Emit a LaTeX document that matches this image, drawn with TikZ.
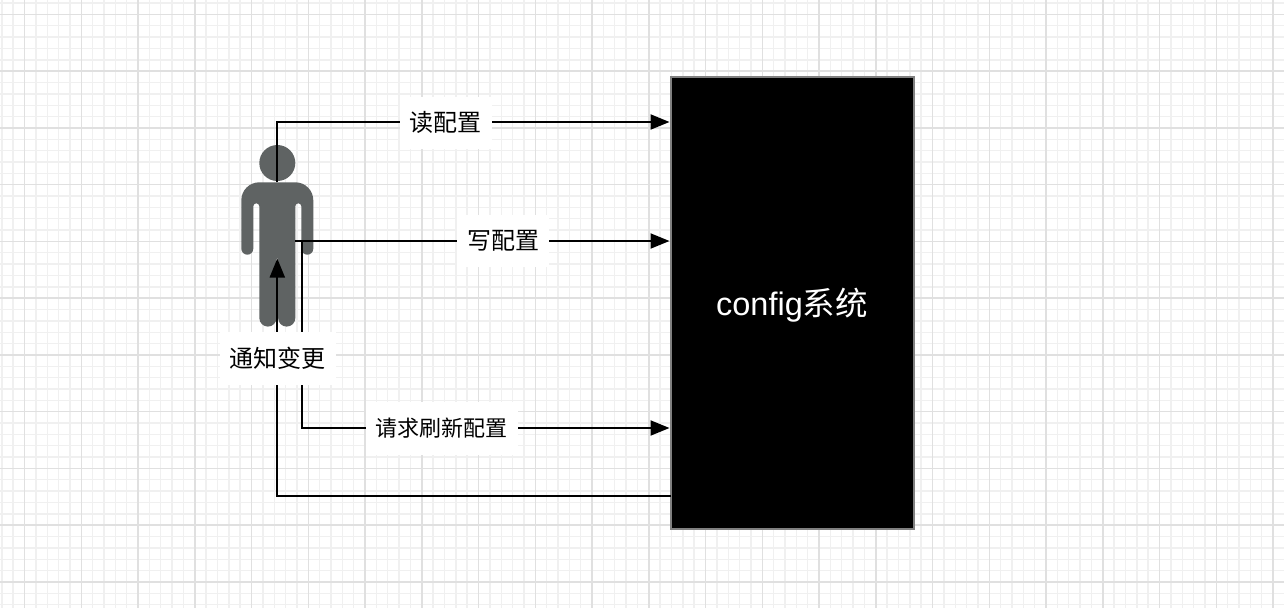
\documentclass[tikz,border=0pt]{standalone}
\usepackage{fontspec}
\setmainfont{Liberation Sans}
\newfontfamily\cjk{Noto Sans CJK SC}
\usetikzlibrary{arrows.meta}
\definecolor{gridminor}{HTML}{F0F0F0}
\definecolor{gridmajor}{HTML}{E0E0E0}
\definecolor{personc}{HTML}{5F6363}
\tikzset{
  conn/.style={draw=black,line width=2pt},
  arrowed/.style={conn,-{Triangle[length=19pt,width=15pt]}},
  lbl/.style={fill=white,inner sep=0pt,text=black,font=\fontsize{24}{28}\selectfont\cjk},
  lblsmall/.style={fill=white,inner sep=0pt,text=black,font=\fontsize{22}{26}\selectfont\cjk},
  sysbox/.style={draw=black!50,fill=black,line width=2pt,text=white,inner sep=0pt,
     minimum width=243pt,minimum height=452pt}
}
\begin{document}
\begin{tikzpicture}[x=1pt,y=-1pt]
\useasboundingbox (0,0) rectangle (1284,608);
\fill[white] (0,0) rectangle (1284,608);
% grid
\foreach \i in {-2,...,111} {
  \pgfmathsetmacro\gx{24.5+\i*11.35}
  \draw[gridminor,line width=1.4pt] (\gx,0) -- (\gx,608);
}
\foreach \i in {-1,...,53} {
  \pgfmathsetmacro\gy{14.4+\i*11.35}
  \draw[gridminor,line width=1.4pt] (0,\gy) -- (1284,\gy);
}
\foreach \i in {0,...,22} {
  \pgfmathsetmacro\gx{24.5+\i*56.75}
  \draw[gridmajor,line width=1.5pt] (\gx,0) -- (\gx,608);
}
\foreach \i in {0,...,10} {
  \pgfmathsetmacro\gy{14.4+\i*56.75}
  \draw[gridmajor,line width=1.5pt] (0,\gy) -- (1284,\gy);
}
% person
\fill[personc] (277.3,163) circle[radius=18pt];
\fill[personc] (259.3,182.3) -- (295.3,182.3) arc[start angle=90,end angle=0,radius=18pt]
  -- (313.3,248.7) arc[start angle=0,end angle=-180,radius=6pt]
  -- (301.3,206.3) arc[start angle=0,end angle=180,radius=3pt]
  -- (295.3,318) arc[start angle=0,end angle=-180,radius=8.6pt]
  -- (278.1,259) arc[start angle=0,end angle=180,radius=0.8pt]
  -- (276.5,318) arc[start angle=0,end angle=-180,radius=8.6pt]
  -- (259.3,206.3) arc[start angle=0,end angle=180,radius=3pt]
  -- (253.3,248.7) arc[start angle=0,end angle=-180,radius=6pt]
  -- (241.3,200.3) arc[start angle=180,end angle=90,radius=18pt] -- cycle;
% system
\node[sysbox] (sys) at (792.5,303) {};
\node[text=white,inner sep=0pt,font=\fontsize{32.5}{38}\selectfont] (systext) at (792,305.5) {config{\cjk 系统}};
% anchors
\coordinate (pTop) at (277.3,182.3);
\coordinate (pHand) at (295.3,241);
\coordinate (pHip) at (302.3,241);
\coordinate (pCrotch) at (277.3,258.5);
\coordinate (t1) at (669.5,122);
\coordinate (t2) at (669.5,241);
\coordinate (t3) at (669.5,428);
\coordinate (s4) at (671,496);
% connectors
\draw[arrowed] (pTop) |- (t1);
\draw[arrowed] (pHand) -- (t2);
\draw[arrowed] (pHip) |- (t3);
\draw[arrowed] (s4) -| (pCrotch);
% labels
\node[lbl,minimum width=92pt,minimum height=52pt] (l1) at (445.5,122.5) {读配置};
\node[lbl,minimum width=92pt,minimum height=52pt] (l2) at (503,241) {写配置};
\node[lbl,minimum width=116pt,minimum height=53pt] (l3) at (277.5,358.5) {通知变更};
\node[lblsmall,minimum width=152pt,minimum height=53pt] (l4) at (441.8,428) {请求刷新配置};
\end{tikzpicture}
\end{document}
